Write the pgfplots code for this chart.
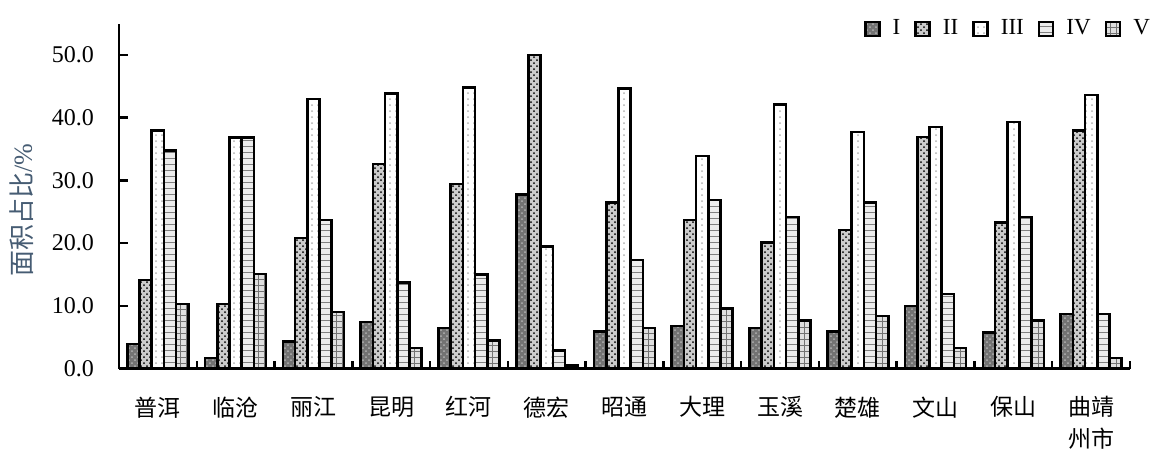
\documentclass[border=0pt]{standalone}
\usepackage{fontspec}
\setmainfont{Liberation Serif}
\newfontfamily\cjk{Noto Sans CJK SC}
\usepackage{pgfplots}
\pgfplotsset{compat=1.18}
\usetikzlibrary{patterns}
\definecolor{labelblue}{RGB}{70,92,115}

% one row per region, columns = class I..V (area share, %)
\pgfplotstableread{
x  I     II    III   IV    V
0  3.9   14.1  38.0  34.8  10.3
1  1.7   10.3  36.8  36.8  15.1
2  4.3   20.8  43.0  23.7  9.0
3  7.4   32.6  43.9  13.7  3.3
4  6.5   29.4  44.8  15.0  4.5
5  27.8  50.0  19.5  2.9   0.5
6  5.9   26.5  44.7  17.3  6.5
7  6.8   23.7  33.9  26.9  9.6
8  6.5   20.1  42.1  24.2  7.7
9  5.9   22.1  37.7  26.5  8.4
10 10.0  36.9  38.5  11.9  3.3
11 5.8   23.3  39.3  24.2  7.7
12 8.7   38.0  43.6  8.7   1.7
}\datatable

\begin{document}
\begin{tikzpicture}
\begin{axis}[
    scale only axis,
    width=505.5pt, height=172.5pt,
    ybar=0pt, bar width=6.1pt,
    ymin=0, ymax=55, xmin=-0.5, xmax=12.5,
    axis x line*=bottom, axis y line*=left,
    axis line style={line width=1.3pt},
    tick align=inside,
    major tick length=4.5pt, minor tick length=4pt,
    tick style={line width=1.2pt, black},
    ytick={0,10,20,30,40,50},
    xtick=data,
    minor xtick={-0.5,0.5,...,12.5},
    major x tick style={draw=none},
    xticklabels={普洱,临沧,丽江,昆明,红河,德宏,昭通,大理,玉溪,楚雄,文山,保山,{曲靖\\州市}},
    xticklabel style={font=\cjk\fontsize{11.5}{16}\selectfont, align=center, yshift=-10.5pt},
    yticklabel style={font=\fontsize{12}{14}\selectfont, xshift=-9pt},
    /pgf/number format/assume math mode=true,
    yticklabel={\pgfmathprintnumber[fixed,fixed zerofill,precision=1]{\tick}},
    ylabel={{\cjk 面积占比}/\%},
    every axis y label/.style={at={(axis description cs:-0.096,0.46)}, rotate=90, anchor=center,
        font=\fontsize{13}{15}\selectfont, text=labelblue},
    legend columns=-1,
    legend style={at={(1.03,1.035)}, anchor=north east, draw=none, fill=none,
        font=\fontsize{11.5}{14}\selectfont,
        /tikz/every odd column/.append style={column sep=4pt},
        /tikz/every even column/.append style={column sep=5pt}},
    legend image code/.code={\draw[#1, line width=1.3pt] (0pt,-3.5pt) rectangle (7pt,3.5pt);},
    every axis plot/.append style={draw=black, line width=1.3pt},
]
\addplot[fill=black!55, postaction={pattern=crosshatch dots, pattern color=white!70!black}] table[x=x, y=I] {\datatable};
\addplot[fill=gray!40, postaction={pattern=crosshatch dots, pattern color=black}] table[x=x, y=II] {\datatable};
\addplot[fill=white, postaction={pattern=dots, pattern color=gray!60}] table[x=x, y=III] {\datatable};
\addplot[fill=gray!15, postaction={pattern=horizontal lines, pattern color=gray}] table[x=x, y=IV] {\datatable};
\addplot[fill=gray!25, postaction={pattern=grid, pattern color=gray!90!black}] table[x=x, y=V] {\datatable};
\legend{I,II,III,IV,V}
\end{axis}
\path[use as bounding box] ([shift={(-59.5pt,-48.25pt)}]current axis.south west)
    rectangle ([shift={(21.5pt,11.8pt)}]current axis.north east);
\end{tikzpicture}
\end{document}
